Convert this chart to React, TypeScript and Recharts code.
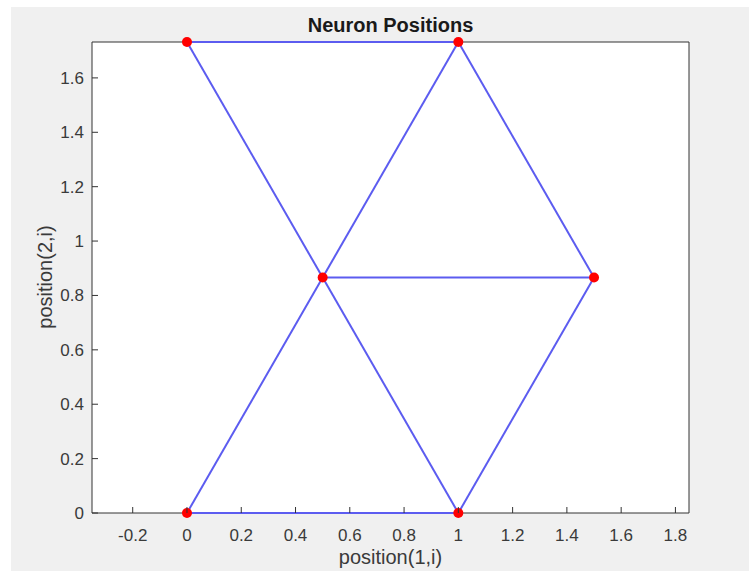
import React from 'react';
import { ScatterChart, Scatter, XAxis, YAxis, CartesianGrid } from 'recharts';

// neuron coordinates (hextop 2x3 layout)
const neuronX = [0, 1, 0.5, 1.5, 0, 1];
const neuronY = [0, 0, 0.866, 0.866, 1.732, 1.732];

// neighbour links between neurons, as index pairs
const links: [number, number][] = [
  [0, 1], [0, 2], [1, 2], [1, 3], [2, 3],
  [2, 4], [2, 5], [3, 5], [4, 5],
];

const xTicks = [-0.2, 0, 0.2, 0.4, 0.6, 0.8, 1, 1.2, 1.4, 1.6, 1.8];
const yTicks = [0, 0.2, 0.4, 0.6, 0.8, 1, 1.2, 1.4, 1.6];
const xDomain: [number, number] = [-0.35, 1.85];
const yDomain: [number, number] = [0, 1.732];

const neurons = neuronX.map((x, i) => ({ x, y: neuronY[i] }));
const segments = links.map(([a, b]) => [neurons[a], neurons[b]]);

const FONT = '"Liberation Sans", Arial, Helvetica, sans-serif';
const AXIS = '#333333';
const TEXT = '#3a3a3a';
const TICK_LEN = 6;

const fmt = (v: number) => String(Math.round(v * 10) / 10);

const BottomTick = ({ x, y, payload }: any) => (
  <g>
    <line x1={x} y1={y} x2={x} y2={y - TICK_LEN} stroke={AXIS} />
    <text x={x} y={y + 28} textAnchor="middle" fill={TEXT} fontSize={17} fontFamily={FONT}>
      {fmt(payload.value)}
    </text>
  </g>
);

const TopTick = ({ x, y }: any) => (
  <line x1={x} y1={y} x2={x} y2={y + TICK_LEN} stroke={AXIS} />
);

const LeftTick = ({ x, y, payload }: any) => (
  <g>
    <line x1={x} y1={y} x2={x + TICK_LEN} y2={y} stroke={AXIS} />
    <text x={x - 8} y={y} dy="0.35em" textAnchor="end" fill={TEXT} fontSize={17} fontFamily={FONT}>
      {fmt(payload.value)}
    </text>
  </g>
);

const RightTick = ({ x, y }: any) => (
  <line x1={x} y1={y} x2={x - TICK_LEN} y2={y} stroke={AXIS} />
);

const NoDot = () => <g />;

const RedDot = ({ cx, cy }: any) => <circle cx={cx} cy={cy} r={5} fill="#ff0000" />;

export default function App() {
  return (
    <div style={{ position: 'relative', width: 749, height: 571, background: '#ffffff', overflow: 'hidden' }}>
      <style>{`body{margin:0}`}</style>
      <div style={{ position: 'absolute', left: 11, top: 7, right: 0, bottom: 0, background: '#f0f0f0' }} />
      <div style={{ position: 'absolute', left: 0, top: 0 }}>
        {/* axis bands: bottom/top 30px, left/right 60px, so the plot box spans 92..689 x 42..513 */}
        <ScatterChart width={749} height={571} margin={{ top: 12, right: 0, bottom: 28, left: 32 }}>
          <CartesianGrid horizontal={false} vertical={false} fill="#ffffff" />
          <XAxis
            xAxisId={0}
            type="number"
            dataKey="x"
            domain={xDomain}
            ticks={xTicks}
            height={30}
            tickSize={0}
            tickMargin={0}
            tickLine={false}
            axisLine={{ stroke: AXIS }}
            tick={<BottomTick />}
            interval={0}
          />
          <XAxis
            xAxisId="top"
            orientation="top"
            type="number"
            domain={xDomain}
            ticks={xTicks}
            height={30}
            tickSize={0}
            tickMargin={0}
            tickLine={false}
            axisLine={{ stroke: AXIS }}
            tick={<TopTick />}
            interval={0}
          />
          <YAxis
            yAxisId={0}
            type="number"
            dataKey="y"
            domain={yDomain}
            ticks={yTicks}
            width={60}
            tickSize={0}
            tickMargin={0}
            tickLine={false}
            axisLine={{ stroke: AXIS }}
            tick={<LeftTick />}
            interval={0}
          />
          <YAxis
            yAxisId="right"
            orientation="right"
            type="number"
            domain={yDomain}
            ticks={yTicks}
            width={60}
            tickSize={0}
            tickMargin={0}
            tickLine={false}
            axisLine={{ stroke: AXIS }}
            tick={<RightTick />}
            interval={0}
          />
          {segments.map((seg, i) => (
            <Scatter
              key={`link-${i}`}
              data={seg}
              xAxisId={0}
              yAxisId={0}
              line={{ stroke: '#5c5cf0', strokeWidth: 2 }}
              shape={<NoDot />}
              isAnimationActive={false}
            />
          ))}
          <Scatter
            data={neurons}
            xAxisId={0}
            yAxisId={0}
            shape={<RedDot />}
            isAnimationActive={false}
          />
        </ScatterChart>
      </div>
      <div
        style={{
          position: 'absolute', left: 92, width: 597, top: 14, textAlign: 'center',
          fontFamily: FONT, fontWeight: 'bold', fontSize: 20, color: '#1a1a1a',
        }}
      >
        Neuron Positions
      </div>
      <div
        style={{
          position: 'absolute', left: 92, width: 597, top: 546, textAlign: 'center',
          fontFamily: FONT, fontSize: 20, color: TEXT,
        }}
      >
        position(1,i)
      </div>
      <div style={{ position: 'absolute', left: 45, top: 277, width: 0, height: 0 }}>
        <div
          style={{
            position: 'absolute', left: 0, top: 0, transform: 'translate(-50%, -50%) rotate(-90deg)',
            whiteSpace: 'nowrap', fontFamily: FONT, fontSize: 20, color: TEXT,
          }}
        >
          position(2,i)
        </div>
      </div>
    </div>
  );
}
